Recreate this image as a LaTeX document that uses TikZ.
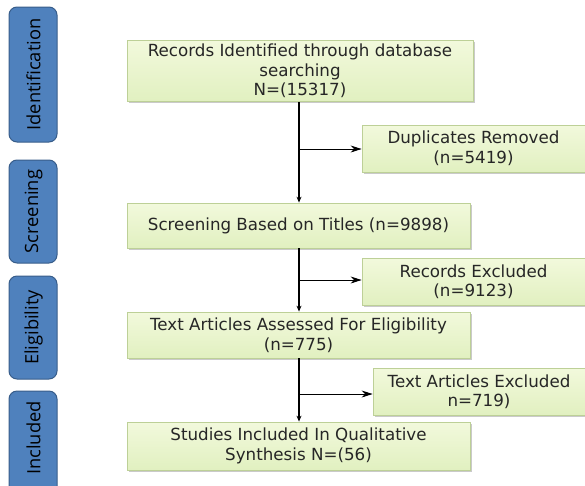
\documentclass[tikz,border=0pt]{standalone}
\usepackage{fontspec}
\setmainfont{DejaVu Sans}
\newfontfamily\tabfont{Open Sans}
\usetikzlibrary{shadows,arrows.meta}
\definecolor{boxtop}{HTML}{F2F9DC}
\definecolor{boxbot}{HTML}{E1F0C0}
\definecolor{boxline}{HTML}{BDD097}
\definecolor{tabfill}{HTML}{4F81BD}
\definecolor{tabline}{HTML}{385D8A}
\tikzset{
  flowbox/.style={draw=boxline, line width=0.8pt, top color=boxtop, bottom color=boxbot,
    drop shadow={shadow xshift=1.5pt, shadow yshift=-1.5pt, fill=black!35, opacity=0.6},
    align=center, font=\fontsize{16.7}{19.5}\selectfont, text=black!85, inner sep=0pt},
  tabbox/.style={draw=tabline, line width=1pt, fill=tabfill, rounded corners=8pt},
  tabtext/.style={rotate=90, font=\tabfont\fontsize{18.3}{21}\selectfont, text=black},
  mainarrow/.style={line width=1.8pt, -{Stealth[length=6pt,width=5pt]}},
  sidearrow/.style={line width=0.8pt, -{Stealth[length=11pt,width=7pt]}}
}
\begin{document}
\begin{tikzpicture}[x=1pt,y=-1pt]
\useasboundingbox (0,0) rectangle (585,485);
% phase tabs
\draw[tabbox] (9,7) rectangle (57,142);
\node[tabtext] (tid) at (33.5,74.5) {Identification};
\draw[tabbox] (9,160) rectangle (57,263);
\node[tabtext] (tsc) at (33.5,211.5) {Screening};
\draw[tabbox] (9,276) rectangle (57,379);
\node[tabtext] (tel) at (33.5,327.5) {Eligibility};
\draw[tabbox] (9,391) rectangle (57,500);
\node[tabtext] (tin) at (33.5,438) {Included};
% main boxes
\node[flowbox, minimum width=346pt, minimum height=61pt] (rec) at (300,71) {Records Identified through database\\searching\\N=(15317)};
\node[flowbox, minimum width=223pt, minimum height=47pt] (dup) at (473.5,148.5) {Duplicates Removed\\(n=5419)};
\node[flowbox, minimum width=343pt, minimum height=45pt] (scr) at (298.5,225.5) {Screening Based on Titles (n=9898)};
\node[flowbox, minimum width=223pt, minimum height=47pt] (rex) at (473.5,281.5) {Records Excluded\\(n=9123)};
\node[flowbox, minimum width=343pt, minimum height=46pt] (ass) at (298.5,335) {Text Articles Assessed For Eligibility\\(n=775)};
\node[flowbox, minimum width=212pt, minimum height=47pt] (tex) at (479,391.5) {Text Articles Excluded\\n=719)};
\node[flowbox, minimum width=343pt, minimum height=48pt] (inc) at (298.5,446) {Studies Included In Qualitative\\Synthesis N=(56)};
% connectors
\draw[mainarrow] (rec.south -| 299,0) -- (scr.north -| 299,0);
\coordinate (b1) at (299,149);
\draw[sidearrow] (b1) -- (dup.west |- b1);
\draw[mainarrow] (scr.south -| 299,0) -- (ass.north -| 299,0);
\coordinate (b2) at (299,280);
\draw[sidearrow] (b2) -- (rex.west |- b2);
\draw[mainarrow] (ass.south -| 299,0) -- (inc.north -| 299,0);
\coordinate (b3) at (299,394);
\draw[sidearrow] (b3) -- (tex.west |- b3);
\end{tikzpicture}
\end{document}
